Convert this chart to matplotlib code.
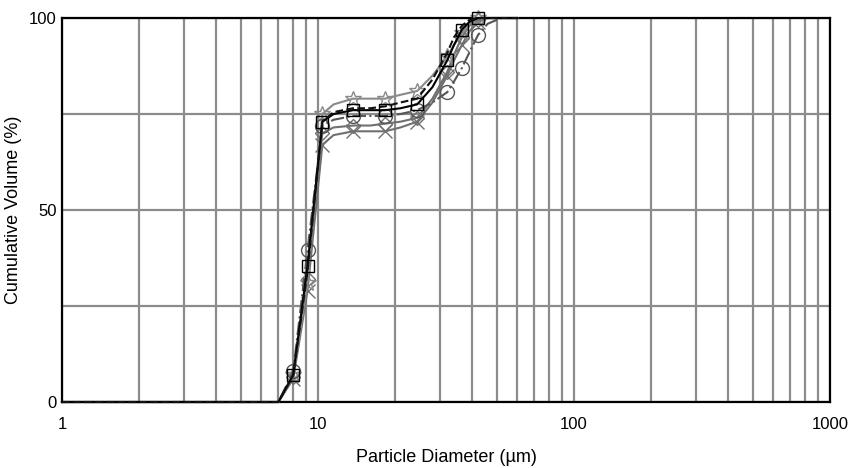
import matplotlib
matplotlib.use("Agg")
import matplotlib.pyplot as plt
from matplotlib.ticker import FixedLocator, NullFormatter, LogLocator

plt.rcParams['font.family'] = ['Liberation Sans', 'DejaVu Sans']

# particle sizes (um) where the curves are sampled
sizes = [1, 7, 8, 9.1, 10.4, 11.5, 13.7, 16, 18.3, 21, 24.4, 28, 32, 34, 36.5, 39, 42.2, 46, 52, 60]
# indices that carry a marker
marked = [2, 3, 4, 6, 8, 10, 12, 14, 16]

vol_circle = [0, 0, 8, 39.5, 72, 73.5, 74.5, 74.5, 74.5, 75, 76, 78, 80.7, 83.5, 87, 91, 95.6, 98.5, 100, 100]
vol_square = [0, 0, 7, 35.5, 73, 75, 76, 76, 76, 76.5, 77.5, 82, 89, 93, 97, 99, 100, 100, 100, 100]
vol_cross = [0, 0, 6, 29, 67, 69.5, 70.5, 70.5, 70.5, 71.5, 73, 78, 85, 89, 93, 96.5, 99, 100, 100, 100]
vol_diamond = [0, 0, 6.5, 32, 70, 71.5, 72, 72, 72.5, 73, 74, 79, 86, 90.5, 95, 98, 99.5, 100, 100, 100]
vol_star = [0, 0, 7, 31, 75, 77.5, 79, 79, 79, 80, 81, 85, 90, 93, 96, 98.5, 100, 100, 100, 100]
vol_dash = [0, 0, 7, 34, 73, 75.5, 76.5, 76.5, 77, 78, 79, 84, 91, 95, 98, 99.5, 100, 100, 100, 100]

series = [
    (vol_diamond, "#707070", "-", "D", 7),
    (vol_cross, "#707070", "-", "x", 10),
    (vol_star, "#8a8a8a", "-", "*", 12),
    (vol_circle, "#555555", "-.", "o", 10),
    (vol_square, "#000000", "-", "s", 9),
    (vol_dash, "#111111", "--", None, 0),
]

fig = plt.figure(figsize=(8.53, 4.68), dpi=100)
ax = fig.add_axes([0.0727, 0.141, 0.9003, 0.8205])

for vals, col, ls, mk, ms in series:
    ax.plot(sizes, vals, color=col, linestyle=ls, linewidth=1.5,
            marker=mk, markersize=ms, markevery=marked, fillstyle="none",
            markeredgecolor=col, markeredgewidth=1.0, zorder=3, clip_on=False)

ax.set_xscale("log")
ax.set_xlim(1, 1000)
ax.set_ylim(0, 100)
ax.set_xticks([1, 10, 100, 1000])
ax.set_xticklabels(["1", "10", "100", "1000"])
ax.xaxis.set_minor_locator(LogLocator(base=10, subs=range(2, 10)))
ax.xaxis.set_minor_formatter(NullFormatter())
ax.set_yticks([0, 50, 100])
ax.yaxis.set_minor_locator(FixedLocator([25, 75]))

ax.grid(True, which="both", axis="x", color="#8c8c8c", linewidth=1.6)
ax.grid(True, which="both", axis="y", color="#8c8c8c", linewidth=1.6)
ax.set_axisbelow(True)
ax.tick_params(which="both", length=0, labelsize=12)
ax.tick_params(axis="x", pad=11)
ax.tick_params(axis="y", pad=4)

for sp in ax.spines.values():
    sp.set_linewidth(1.6)
    sp.set_color("black")

ax.set_xlabel("Particle Diameter (µm)", fontsize=13, labelpad=12)
ax.set_ylabel("Cumulative Volume (%)", fontsize=13, labelpad=5)

fig.savefig("out.png", dpi=100)
